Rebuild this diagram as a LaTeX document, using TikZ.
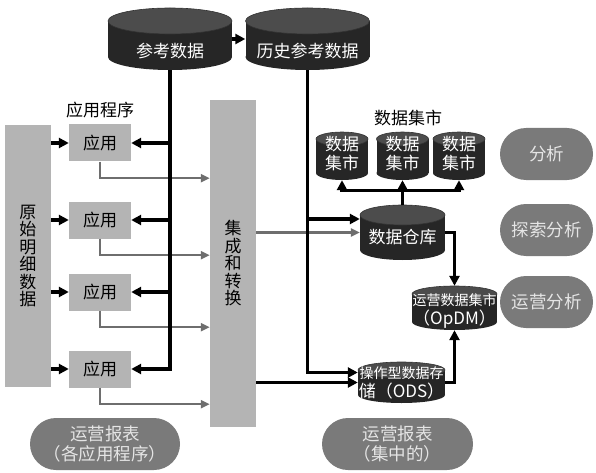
\documentclass[tikz,border=0pt]{standalone}
\usepackage{fontspec}
\setmainfont{Noto Sans CJK SC}
\usetikzlibrary{arrows.meta}

\definecolor{dbdark}{HTML}{262626}
\definecolor{dbrim}{HTML}{4C4C4C}
\definecolor{boxgray}{HTML}{B4B4B4}
\definecolor{pillgray}{HTML}{7A7A7A}
\definecolor{wiregray}{HTML}{6E6E6E}

% name, cx, cy, half width, half body, ellipse ry, text dy, text
\newcommand{\dbcyl}[8]{%
    \fill[dbbody] (#2-#4,#3-#5) rectangle (#2+#4,#3+#5);
    \fill[dbbody] (#2,#3+#5) ellipse ({#4} and {#6});
    \filldraw[dbtop] (#2,#3-#5) ellipse ({#4} and {#6});
    \node[inner sep=0, minimum width=2*#4, minimum height=2*#5+2*#6] (#1) at (#2,#3) {};
    \node[dbtext] (#1t) at (#2,#3+#7) {#8};
}

\begin{document}
\begin{tikzpicture}[x=1pt, y=-1pt, font=\fontsize{17}{19}\selectfont,
        dbbody/.style={fill=dbdark},
        dbtop/.style={fill=dbrim, draw=black!80, line width=0.6},
        dbtext/.style={text=white, align=center, inner sep=0},
        appbox/.style={fill=boxgray, minimum width=62, minimum height=37, inner sep=0},
        bar/.style={fill=boxgray, minimum width=46, inner sep=0, align=center,
            font=\fontsize{17}{17.5}\selectfont},
        pill/.style={fill=pillgray, rounded corners=26, text=white!90!black,
            minimum width=93, minimum height=52, align=center,
            font=\fontsize{17.5}{20}\selectfont},
        blk/.style={line width=3.1, -{Triangle[length=10pt,width=10pt]}},
        gry/.style={line width=2.5, draw=wiregray, -{Triangle[length=9pt,width=8pt]}}]
    \useasboundingbox (0,0) rectangle (596,473);

    % databases
    \dbcyl{ref}{170}{39}{62}{18}{13}{12}{参考数据}
    \dbcyl{hist}{307.5}{39}{62}{18}{13}{12}{历史参考数据}
    \dbcyl{mart1}{342}{156}{26}{17}{7}{-2}{数据\\集市}
    \dbcyl{mart2}{402.5}{156}{26}{17}{7}{-2}{数据\\集市}
    \dbcyl{mart3}{459}{156}{26}{17}{7}{-2}{数据\\集市}
    \dbcyl{dw}{402.5}{232.5}{42.5}{17.5}{10}{5}{数据仓库}
    \dbcyl{opdm}{454.5}{308}{42.5}{14}{8}{3}{\fontsize{14}{18}\selectfont 运营数据集市\\（OpDM）}
    \dbcyl{ods}{401.5}{382.5}{43.5}{12.5}{8}{0}{\fontsize{14}{19}\selectfont 操作型数据存\\储（ODS）}

    % boxes and bars
    \node[bar, minimum height=262] (raw) at (28,256) {原\\始\\明\\细\\数\\据};
    \node[bar, minimum height=327] (conv) at (233,263.5) {集\\成\\和\\转\\换};
    \foreach \i/\y in {1/143,2/220,3/292,4/369}
        \node[appbox] (app\i) at (100,\y) {应用};
    \node (applbl) at (100,110) {应用程序};
    \node (martlbl) at (408,118) {数据集市};

    % pills
    \node[pill] (ana) at (546.5,154) {分析};
    \node[pill] (explore) at (546.5,230) {探索分析};
    \node[pill] (opana) at (546.5,302) {运营分析};
    \node[pill, minimum width=150] (rptapp) at (105,444) {运营报表\\（各应用程序）};
    \node[pill, minimum width=151] (rptods) at (397.5,444) {运营报表\\（集中的）};

    % gray feeds
    \foreach \i in {1,...,4} {
        \coordinate (feed\i) at ([yshift=-16.5pt]app\i.south);
        \draw[gry] (app\i.south) -- (feed\i) -- (feed\i -| conv.west);
    }
    \draw[gry] (conv.east |- dw.west) -- (dw.west);

    % black flows
    \draw[blk] (ref.east) -- (hist.west);
    \draw[blk] (ref.south) |- (app4.east);
    \foreach \i in {1,2,3}
        \draw[blk] (ref.south |- app\i.east) -- (app\i.east);
    \foreach \i in {1,...,4}
        \draw[blk] (raw.east |- app\i.west) -- (app\i.west);

    \coordinate (odsin) at ([yshift=10pt]ods.west);
    \coordinate (dwin) at ([yshift=13.5pt]dw.west);
    \draw[blk] (hist.south) |- (odsin);
    \draw[blk] (hist.south |- dwin) -- (dwin);
    \draw[blk] (conv.east |- ods.west) -- (ods.west);

    \coordinate (hub) at ([yshift=14pt]dw.north);
    \draw[blk] (dw.north) -- (mart2.south);
    \draw[blk] (hub) -| (mart1.south);
    \draw[blk] (hub) -| (mart3.south);

    \draw[blk] (dw.east) -| (opdm.north);
    \draw[blk] (ods.east) -| (opdm.south);
\end{tikzpicture}
\end{document}
